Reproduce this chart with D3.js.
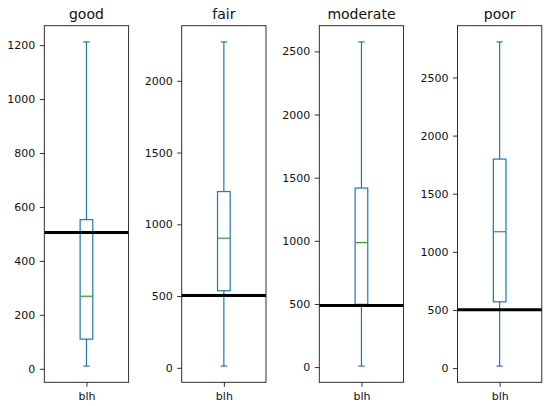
<!DOCTYPE html>
<html>
<head>
<meta charset="utf-8">
<script src="https://cdn.jsdelivr.net/npm/d3@7"></script>
<style>
  body { margin: 0; background: #fff; }
  svg { display: block; }
  text { font-family: "DejaVu Sans", sans-serif; fill: #111; }
</style>
</head>
<body>
<svg id="chart" width="550" height="406"></svg>
<script>
// ---- data ----
const categories = ["good", "fair", "moderate", "poor"];
const variableName = "blh";
const whiskerLow  = [10, 12, 8, 17];
const q1Values    = [110, 537, 497, 570];
const medians     = [269, 903, 986, 1173];
const q3Values    = [553, 1228, 1418, 1798];
const whiskerHigh = [1212, 2271, 2575, 2806];
const thresholds  = [505, 504, 488, 501];
const tickLabels  = [
  [0, 200, 400, 600, 800, 1000, 1200],
  [0, 500, 1000, 1500, 2000],
  [0, 500, 1000, 1500, 2000, 2500],
  [0, 500, 1000, 1500, 2000, 2500]
];

// ---- layout ----
const panelLefts = [44.3, 181.7, 319.3, 457.5];
const panelW = 84.3;
const plotTop = 25.7, plotBottom = 382.3;
const boxColor = "#1f77b4", medianColor = "#2ca02c";
const inkColor = "#1a1a1a";
const svg = d3.select("#chart");

categories.forEach((cat, i) => {
  const lo = whiskerLow[i], hi = whiskerHigh[i];
  const m = (hi - lo) * 0.05;
  const y = d3.scaleLinear().domain([lo - m, hi + m]).range([plotBottom, plotTop]);
  const x = d3.scaleLinear().domain([0.5, 1.5]).range([0, panelW]);
  const g = svg.append("g").attr("transform", `translate(${panelLefts[i]},0)`);
  const cx = x(1);
  const bw = x(1.075) - x(0.925);
  const cw = bw / 2;
  const sw = 1.2;

  // whiskers
  g.append("line").attr("x1", cx).attr("x2", cx).attr("y1", y(q3Values[i])).attr("y2", y(hi))
    .attr("stroke", boxColor).attr("stroke-width", sw);
  g.append("line").attr("x1", cx).attr("x2", cx).attr("y1", y(q1Values[i])).attr("y2", y(lo))
    .attr("stroke", boxColor).attr("stroke-width", sw);
  // caps
  [lo, hi].forEach(v => {
    g.append("line").attr("x1", cx - cw / 2).attr("x2", cx + cw / 2).attr("y1", y(v)).attr("y2", y(v))
      .attr("stroke", boxColor).attr("stroke-width", sw);
  });
  // box
  g.append("rect").attr("x", cx - bw / 2).attr("width", bw)
    .attr("y", y(q3Values[i])).attr("height", y(q1Values[i]) - y(q3Values[i]))
    .attr("fill", "none").attr("stroke", boxColor).attr("stroke-width", sw);
  // median
  g.append("line").attr("x1", cx - bw / 2).attr("x2", cx + bw / 2)
    .attr("y1", y(medians[i])).attr("y2", y(medians[i]))
    .attr("stroke", medianColor).attr("stroke-width", sw);

  // threshold line
  g.append("line").attr("x1", 0).attr("x2", panelW)
    .attr("y1", y(thresholds[i])).attr("y2", y(thresholds[i]))
    .attr("stroke", "#000").attr("stroke-width", 3);

  // y axis
  const ya = g.append("g").call(d3.axisLeft(y).tickValues(tickLabels[i]).tickSize(4.5).tickPadding(4.5).tickFormat(d3.format("d")));
  ya.select(".domain").remove();
  ya.selectAll("text").style("font-size", "11px").attr("fill", inkColor);
  ya.selectAll("line").attr("stroke", inkColor).attr("stroke-width", 0.9);

  // x axis
  const xa = g.append("g").attr("transform", `translate(0,${plotBottom})`)
    .call(d3.axisBottom(x).tickValues([1]).tickSize(4.5).tickPadding(5).tickFormat(() => variableName));
  xa.select(".domain").remove();
  xa.selectAll("text").style("font-size", "11px").attr("fill", inkColor);
  xa.selectAll("line").attr("stroke", inkColor).attr("stroke-width", 0.9);

  // frame
  g.append("rect").attr("x", 0).attr("y", plotTop).attr("width", panelW).attr("height", plotBottom - plotTop)
    .attr("fill", "none").attr("stroke", inkColor).attr("stroke-width", 0.9);

  // title
  g.append("text").attr("x", panelW / 2).attr("y", 19).attr("text-anchor", "middle")
    .style("font-size", "14px").attr("fill", inkColor).text(cat);
});
</script>
</body>
</html>
